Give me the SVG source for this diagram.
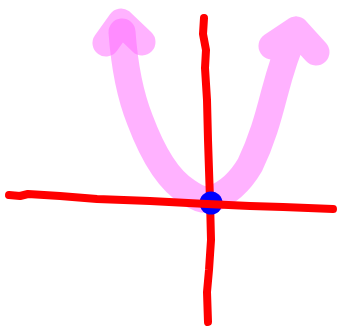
<svg xmlns="http://www.w3.org/2000/svg" width="338" height="329" viewBox="0 0 338 329">
<style>
.pink{fill:none;stroke:#ff66ff;stroke-opacity:0.5;stroke-width:27;stroke-linecap:round;stroke-linejoin:round}
.red{fill:none;stroke:#ff0000;stroke-width:8;stroke-linecap:round;stroke-linejoin:round}
</style>
<rect width="338" height="329" fill="#ffffff"/>
<g id="curve">
<path class="pink" d="M106,43 L121,22 L142,42"/>
<path class="pink" d="M122,32 C124,60 128,90 140,120 C152,152 168,180 188,192 C198,199 205,201 212,199 C226,194 240,182 250,165 C262,140 268,118 274,95 C280,72 286,52 296,30 M296,30 L272,46 M296,30 L316,52"/>
</g>
<g id="y-axis">
<path class="red" d="M204,18 L203,34 L206,50 L205,68 L207,100 L208,140 L210,200 L211,240 L209,270 L207,292 L208,322"/>
</g>
<g id="origin">
<circle cx="211" cy="203" r="11.5" fill="#0000ff"/>
</g>
<g id="x-axis">
<path class="red" d="M9,195 L20,196 L28,194 L60,196 L97,199 L150,201 L207,204 L250,206 L283,207 L333,209"/>
</g>
</svg>
